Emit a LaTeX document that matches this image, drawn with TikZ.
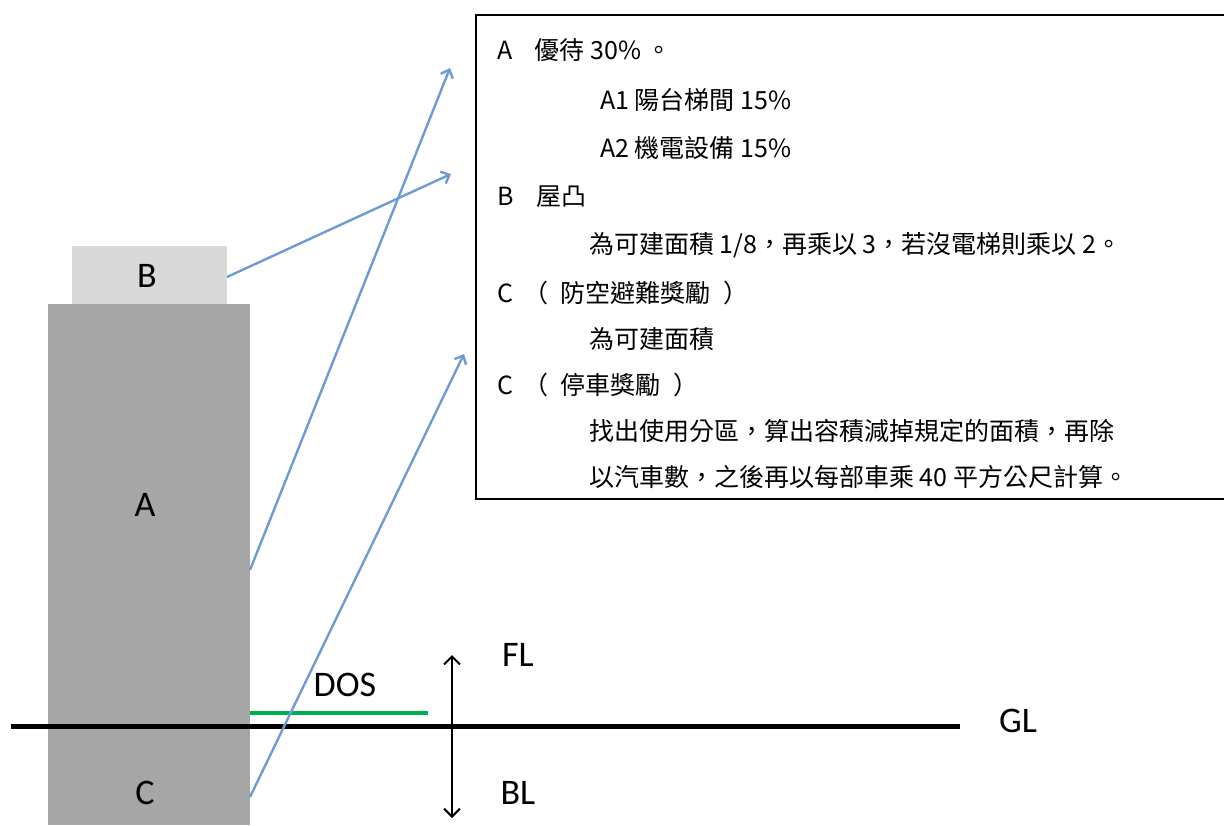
\documentclass[tikz,border=0pt]{standalone}
\usepackage{fontspec}
\usetikzlibrary{arrows.meta}
\newfontfamily\labfont{Carlito}
\newfontfamily\cjkfont{Noto Sans CJK TC}
\definecolor{bldgray}{RGB}{166,166,166}
\definecolor{roofgray}{RGB}{217,217,217}
\definecolor{arrowblue}{RGB}{111,155,213}
\definecolor{dosgreen}{RGB}{0,176,80}
\tikzset{
  lab/.style={font=\labfont\fontsize{36}{42}\selectfont, inner sep=0pt},
  txt/.style={anchor=west, font=\cjkfont\fontsize{25}{30}\selectfont, inner sep=0pt},
  blk/.style={fill=bldgray, draw=none},
  ptr/.style={draw=arrowblue, line width=2.4pt, -{Straight Barb[length=7pt,width=13pt]}},
  dbl/.style={line width=2pt, {Straight Barb[length=8pt,width=16pt]}-{Straight Barb[length=8pt,width=16pt]}},
}
\begin{document}
\begin{tikzpicture}[x=1pt,y=-1pt]
\useasboundingbox (0,0) rectangle (1224,825);
% text box
\draw[line width=2pt] (1230,15) -- (476,15) -- (476,499) -- (1230,499);
\node[txt] (t1) at (497,50) {A\hspace{0.9em}優待 30\% 。};
\node[txt] (t2) at (600,100) {A1 陽台梯間 15\%};
\node[txt] (t3) at (600,148) {A2 機電設備 15\%};
\node[txt] (t4) at (497,197) {B\hspace{0.9em}屋凸};
\node[txt] (t5) at (589,245) {為可建面積 1/8，再乘以 3，若沒電梯則乘以 2。};
\node[txt] (t6) at (497,293) {C\hspace{0.4em}（\hspace{0.5em}防空避難獎勵\hspace{0.5em}）};
\node[txt] (t7) at (589,339) {為可建面積};
\node[txt] (t8) at (497,385) {C\hspace{0.4em}（\hspace{0.5em}停車獎勵\hspace{0.5em}）};
\node[txt] (t9) at (589,431) {找出使用分區，算出容積減掉規定的面積，再除};
\node[txt] (t10) at (589,477) {以汽車數，之後再以每部車乘 40 平方公尺計算。};
% building
\path[fill=roofgray] (72,246) rectangle (227,305);
\path[blk] (48,304) rectangle (250,825);
\node[lab] (B) at (147,276) {B};
\node[lab] (A) at (145,505) {A};
\node[lab] (C) at (145,793) {C};
\coordinate (Bo) at (227,277);
\coordinate (Ao) at (250,570);
\coordinate (Co) at (250,797);
\coordinate (Bt) at (451,174);
\coordinate (At) at (450,68);
\coordinate (Ct) at (464,354);
% ground line
\coordinate (GLl) at (11,726);
\coordinate (GLr) at (960,726);
\draw[line width=5pt] (GLl) -- (GLr);
\node[lab] (GL) at (1018,721) {GL};
% DOS
\coordinate (D1) at (250,713);
\coordinate (D2) at (428,713);
\draw[dosgreen, line width=3.5pt] (D1) -- (D2);
\node[lab] (DOS) at (345,685) {DOS};
% FL/BL arrow
\coordinate (Fup) at (452,655);
\coordinate (Fdn) at (452,818);
\draw[dbl] (Fup) -- (Fdn);
\node[lab] (FL) at (518,655) {FL};
\node[lab] (BL) at (518,793) {BL};
% blue pointers
\draw[ptr] (Bo) -- (Bt);
\draw[ptr] (Ao) -- (At);
\draw[ptr] (Co) -- (Ct);
\end{tikzpicture}
\end{document}
